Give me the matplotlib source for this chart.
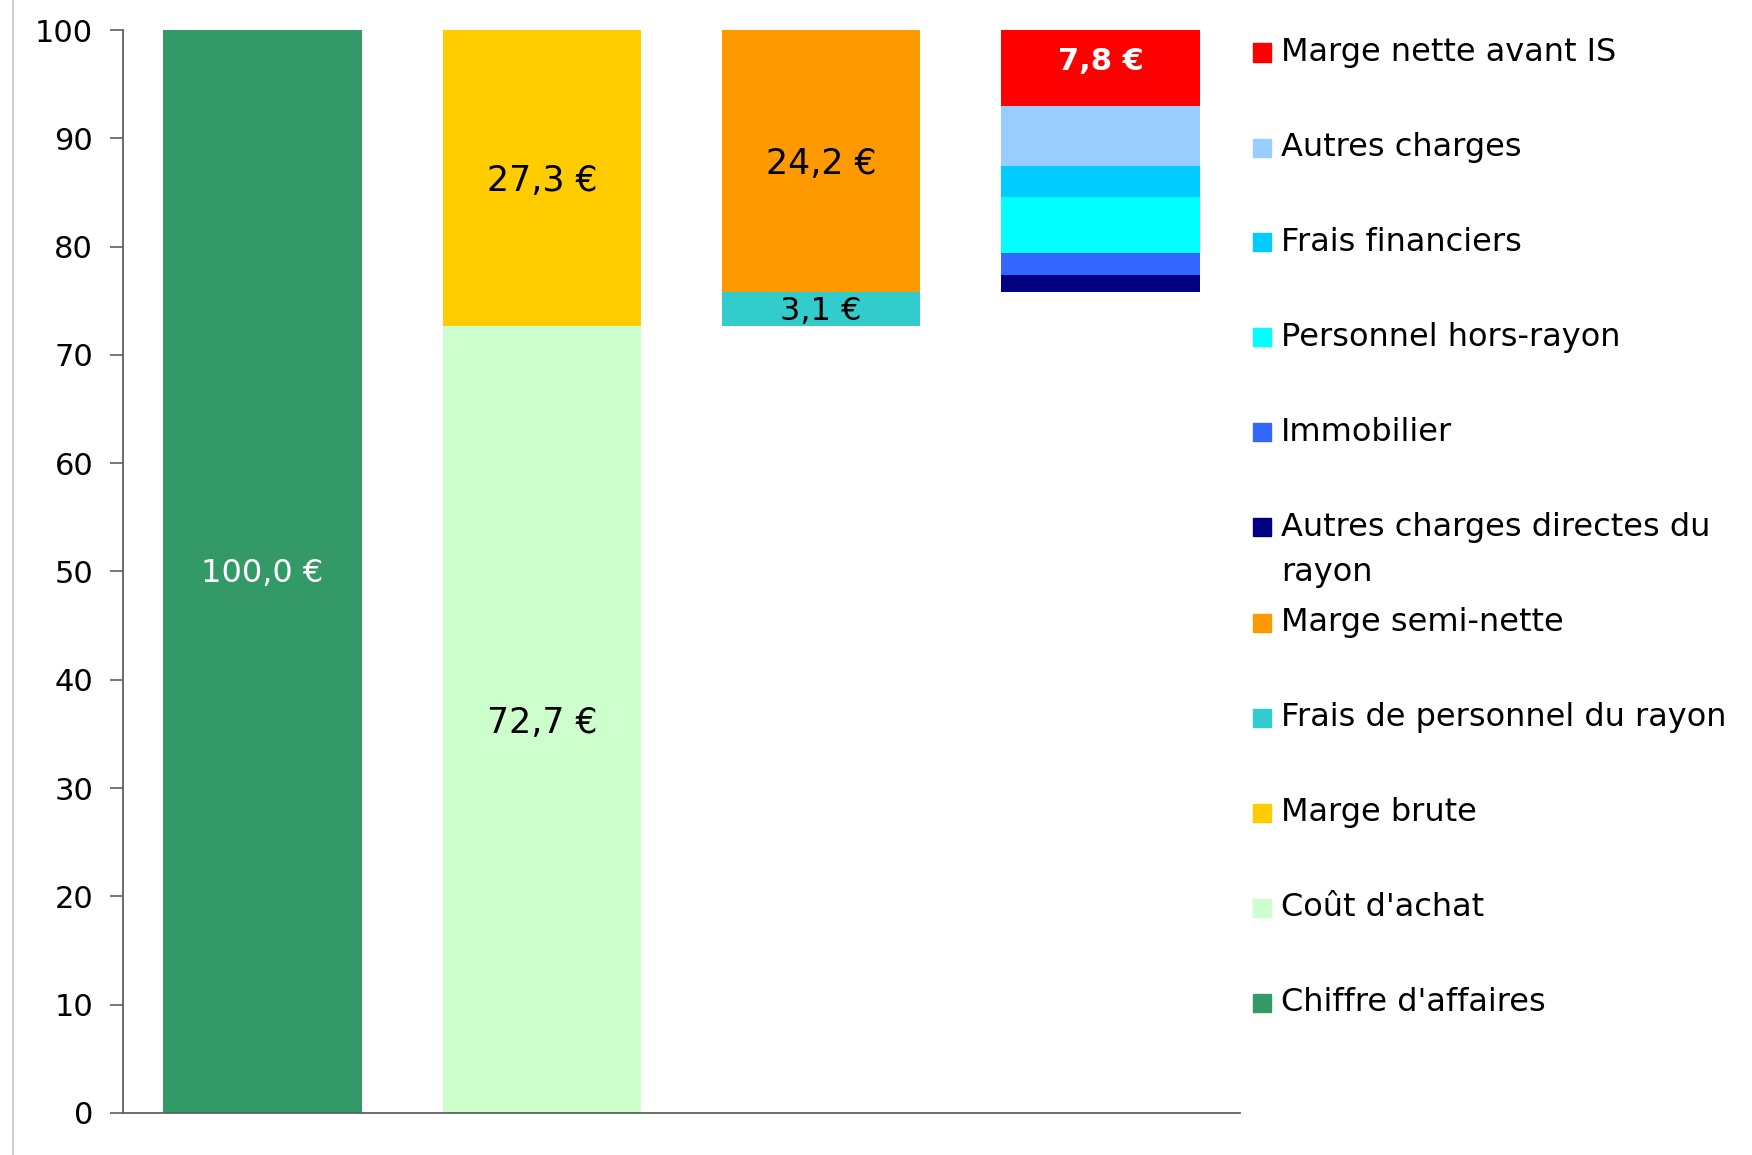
import numpy as np
import matplotlib.pyplot as plt
from matplotlib.patches import Rectangle
from matplotlib.lines import Line2D

plt.rcParams['font.family'] = ['DejaVu Sans']

# 4 stacked columns (waterfall style), values in € per 100 € of sales
x_pos = [0, 1, 2, 3]
base = [0, 0, 72.7, 75.8]  # invisible offset

chiffre_affaires = [100.0, 0, 0, 0]
cout_achat = [0, 72.7, 0, 0]
marge_brute = [0, 27.3, 0, 0]
frais_perso_rayon = [0, 0, 3.1, 0]
marge_semi_nette = [0, 0, 24.2, 0]
autres_directes = [0, 0, 0, 1.6]
immobilier = [0, 0, 0, 2.0]
perso_hors_rayon = [0, 0, 0, 5.2]
frais_financiers = [0, 0, 0, 2.8]
autres_charges = [0, 0, 0, 5.6]
marge_nette = [0, 0, 0, 7.0]

# stacking order, bottom to top
series = [
    ("Chiffre d'affaires", chiffre_affaires, "#339966"),
    ("Coût d'achat", cout_achat, "#CCFFCC"),
    ("Marge brute", marge_brute, "#FFCC00"),
    ("Frais de personnel du rayon", frais_perso_rayon, "#33CCCC"),
    ("Marge semi-nette", marge_semi_nette, "#FF9900"),
    ("Autres charges directes du\nrayon", autres_directes, "#000080"),
    ("Immobilier", immobilier, "#3366FF"),
    ("Personnel hors-rayon", perso_hors_rayon, "#00FFFF"),
    ("Frais financiers", frais_financiers, "#00CCFF"),
    ("Autres charges", autres_charges, "#99CCFF"),
    ("Marge nette avant IS", marge_nette, "#FF0000"),
]

# data labels: series name -> (text, colour, weight, size, dy)
bar_labels = {
    "Chiffre d'affaires": ("100,0 €", "white", "normal", 23, -0.2),
    "Coût d'achat": ("72,7 €", "black", "normal", 25, -0.3),
    "Marge brute": ("27,3 €", "black", "normal", 25, -0.3),
    "Frais de personnel du rayon": ("3,1 €", "black", "normal", 23, -0.2),
    "Marge semi-nette": ("24,2 €", "black", "normal", 25, -0.3),
    "Marge nette avant IS": ("7,8 €", "white", "bold", 22, 0.6),
}

fig = plt.figure(figsize=(17.52, 11.55), dpi=100)
ax = fig.add_axes([0.0702, 0.0364, 0.6376, 0.9376])

bottom = np.array(base, dtype=float)
for name, vals, color in series:
    vals = np.array(vals, dtype=float)
    ax.bar(x_pos, vals, width=0.71, bottom=bottom, color=color, linewidth=0)
    if name in bar_labels:
        txt, tc, fw, fs, dy = bar_labels[name]
        i = int(np.argmax(vals))
        ax.text(x_pos[i], bottom[i] + vals[i] / 2 + dy, txt, ha='center', va='center',
                color=tc, fontsize=fs, fontweight=fw)
    bottom = bottom + vals

ax.set_xlim(-0.5, 3.5)
ax.set_ylim(0, 100)
ax.set_yticks(np.arange(0, 101, 10))
ax.set_xticks([])
for s in ['top', 'right']:
    ax.spines[s].set_visible(False)
for s in ['left', 'bottom']:
    ax.spines[s].set_color('#606060')
    ax.spines[s].set_linewidth(1.3)
ax.tick_params(axis='y', length=9.5, width=1.2, color='#606060', labelsize=22, pad=12)

# legend, top to bottom (reverse of stacking)
y0 = 1 - 52.5 / 1155
step = 95 / 1155
for k, (name, vals, color) in enumerate(series[::-1]):
    y = y0 - k * step
    fig.patches.append(Rectangle((1253 / 1752, y - 9 / 1155), 18 / 1752, 18 / 1155,
                                 transform=fig.transFigure, color=color, figure=fig))
    ty = y
    if "\n" in name:
        ty = y - 22.5 / 1155
    fig.text(1281 / 1752, ty, name, ha='left', va='center', fontsize=23,
             linespacing=1.6)

# thin grey frame line on the left edge
fig.add_artist(Line2D([13 / 1752, 13 / 1752], [0, 1], transform=fig.transFigure,
                      color='#c8c8c8', linewidth=1.2))

fig.savefig('out.png', dpi=100)
